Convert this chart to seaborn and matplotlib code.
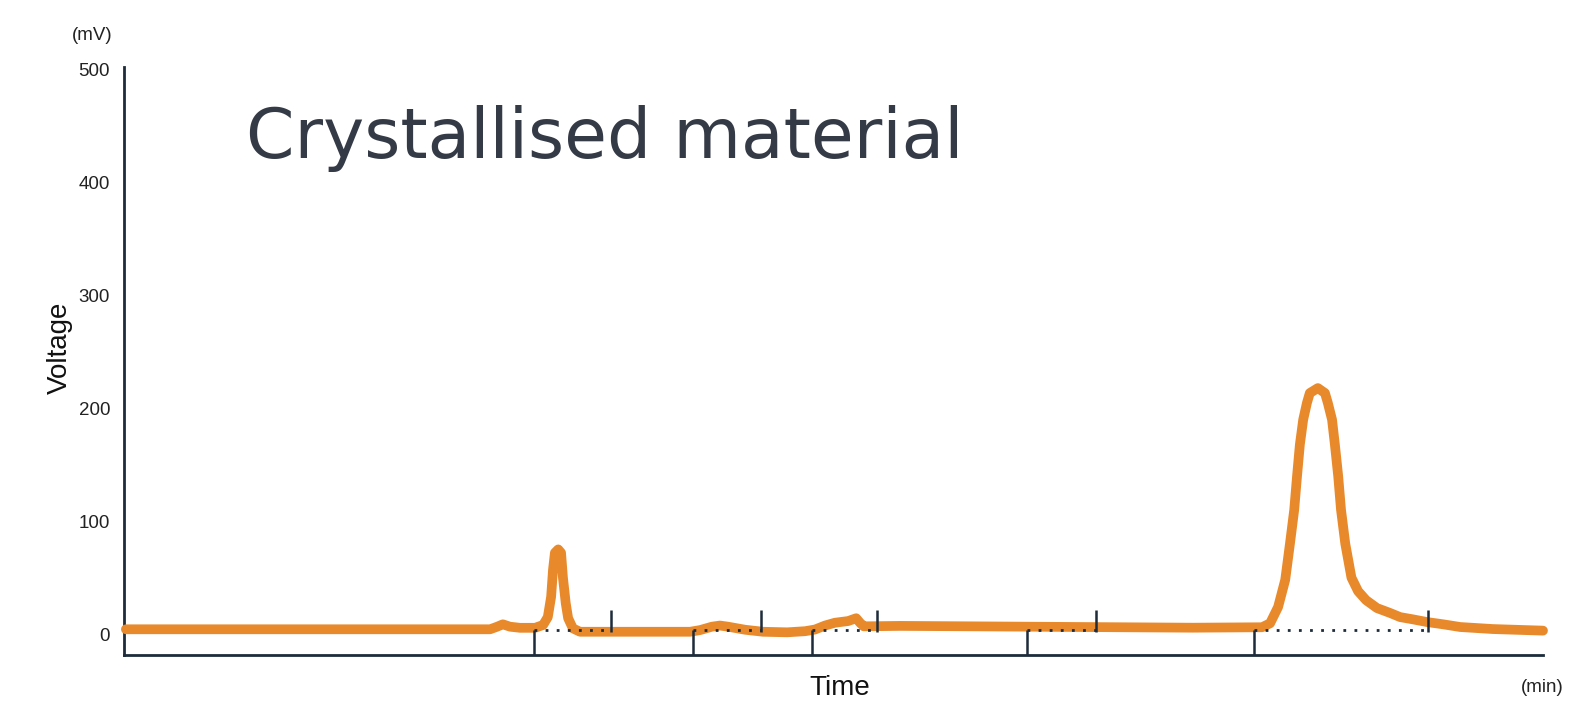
import matplotlib.pyplot as plt
import numpy as np
import pandas as pd
import seaborn as sns

# chromatogram trace (time in min, signal in mV)
time = [0.04, 7.74, 7.89, 8.01, 8.16, 8.37, 8.69, 8.86, 8.96, 9.03, 9.07, 9.11, 9.18, 9.24, 9.28, 9.34,
        9.39, 9.49, 9.64, 11.97, 12.18, 12.43, 12.60, 12.77, 13.13, 13.51, 14.02, 14.40, 14.61,
        14.82, 15.03, 15.31, 15.48, 15.56, 15.64, 16.41, 19.09, 22.60, 24.06, 24.23, 24.40, 24.55,
        24.65, 24.74, 24.80, 24.86, 24.93, 25.01, 25.07, 25.24, 25.39, 25.45, 25.54, 25.60,
        25.67, 25.73, 25.82, 25.95, 26.09, 26.26, 26.49, 26.77, 26.98, 27.25, 27.55, 27.89, 28.25,
        28.94, 30.0]
voltage = [4.2, 4.2, 6.5, 8.6, 6.5, 5.5, 5.5, 8, 15, 33, 57, 72, 75, 72, 50, 27,
           14, 5, 2, 2, 3.5, 6.5, 7.5, 6.5, 3.8, 2, 1.5, 2.5, 4,
           7.5, 10, 11.5, 14, 10, 6.8, 7.2, 6.5, 5.6, 6, 9.5, 24, 48,
           80, 110, 140, 168, 190, 205, 213.6, 218, 213.6, 205, 190, 168,
           140, 110, 80, 50, 38, 30, 23, 18.6, 15, 13, 10.6, 8.6, 6.2,
           4.4, 3.0]

# integration start/end markers
peak_start = [8.67, 12.03, 14.55, 19.09, 23.89]
peak_end = [10.30, 13.47, 15.92, 20.55, 27.57]
baseline = 3.5

y_ticks = [0, 100, 200, 300, 400, 500]

df = pd.DataFrame({'time': time, 'voltage': voltage})

sns.set_style('white')
plt.rcParams['font.family'] = ['Liberation Sans', 'DejaVu Sans']

navy = '#1d2b3a'
orange = '#e8892c'

fig = plt.figure(figsize=(15.77, 7.04), dpi=100)
ax = fig.add_axes([124 / 1577, 1 - 655 / 704, (1543 - 124) / 1577, (655 - 67) / 704])

ymin, ymax = -18.6, 502.6

sns.lineplot(data=df, x='time', y='voltage', ax=ax, color=orange, lw=7,
             solid_joinstyle='round', solid_capstyle='round', clip_on=False, zorder=3)

for s, e in zip(peak_start, peak_end):
    ax.plot([s, e], [baseline, baseline], color=navy, lw=2, ls=(0, (1, 3)), zorder=4)
ax.vlines(peak_start, ymin, baseline, color=navy, lw=1.8, zorder=4)
ax.vlines(peak_end, 2, 21, color=navy, lw=1.8, zorder=4)

ax.set_xlim(0, 30)
ax.set_ylim(ymin, ymax)
ax.set_xticks([])
ax.set_yticks(y_ticks)
ax.tick_params(axis='y', length=0, pad=10, labelsize=13.5, labelcolor='#222222')
ax.set_xlabel('')
ax.set_ylabel('')
for side in ['top', 'right']:
    ax.spines[side].set_visible(False)
for side in ['left', 'bottom']:
    ax.spines[side].set_color(navy)
    ax.spines[side].set_linewidth(2)

fig.text(92 / 1577, 1 - 35 / 704, '(mV)', ha='center', va='center', fontsize=13.5, color='#222222')
fig.text(1542 / 1577, 1 - 688 / 704, '(min)', ha='center', va='center', fontsize=13.5, color='#222222')
fig.text(60 / 1577, 1 - 348 / 704, 'Voltage', rotation=90, ha='center', va='center', fontsize=20, color='#111111')
fig.text(840 / 1577, 1 - 688 / 704, 'Time', ha='center', va='center', fontsize=20, color='#111111')
fig.text(246 / 1577, 1 - 158 / 704, 'Crystallised material', ha='left', va='baseline',
         fontsize=50, color='#343a46', family=['DejaVu Sans'])

fig.savefig('out.png', dpi=100)
